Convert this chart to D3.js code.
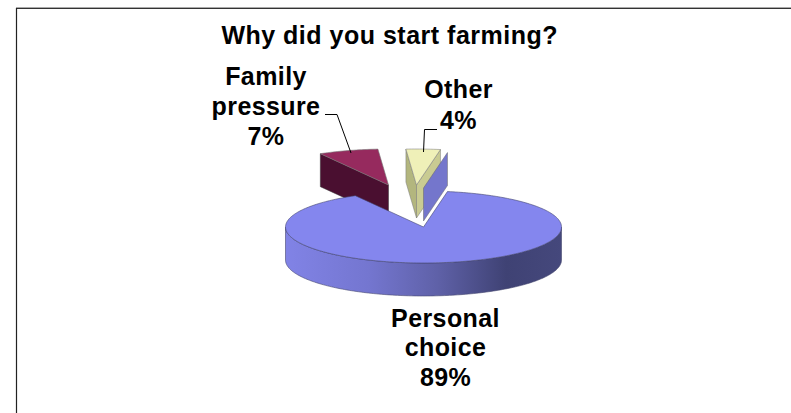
<!DOCTYPE html>
<html>
<head>
<meta charset="utf-8">
<script src="https://cdn.jsdelivr.net/npm/d3@7"></script>
<style>
html, body { margin: 0; padding: 0; background: #fff; }
text { font-family: "Liberation Sans", Arial, sans-serif; font-weight: bold; fill: #000; }
</style>
</head>
<body>
<div id="chart"></div>
<script>
var title = "Why did you start farming?";
var categories = ["Personal choice", "Family pressure", "Other"];
var values = [89, 7, 4];
var label_lines = [["Personal", "choice", "89%"], ["Family", "pressure", "7%"], ["Other", "4%"]];

var width = 791,
	height = 413;

var svg = d3.select("#chart")
	.append("svg")
	.attr("width", width)
	.attr("height", height)
	.style("display", "block");

// frame, only top and left show in the picture
svg.append("line").attr("x1", 16).attr("x2", width).attr("y1", 7.5).attr("y2", 7.5)
	.attr("stroke", "#aaa").attr("stroke-width", 1);
svg.append("line").attr("x1", 16).attr("x2", width).attr("y1", 8.5).attr("y2", 8.5)
	.attr("stroke", "#333").attr("stroke-width", 1);
svg.append("line").attr("x1", 16.5).attr("x2", 16.5).attr("y1", 8).attr("y2", height)
	.attr("stroke", "#222").attr("stroke-width", 1.2);

var defs = svg.append("defs");

var wall_grad = defs.append("linearGradient").attr("id", "wall_main");
[[0, "#8183e6"], [0.3, "#7476d0"], [0.55, "#5f61a8"], [0.8, "#3f4274"], [1, "#45487c"]].forEach(function (s) {
	wall_grad.append("stop").attr("offset", s[0]).attr("stop-color", s[1]);
});

var cx = 423.5,
	cy = 227,
	rx = 138,
	ry = 36,
	depth = 33;

var x_scale = d3.scaleLinear().domain([-1, 1]).range([-rx, rx]);
var y_scale = d3.scaleLinear().domain([-1, 1]).range([-ry, ry]);

var start = 10 * Math.PI / 180;
var slices = d3.pie().sort(null).startAngle(start).endAngle(start + 2 * Math.PI)(values);

// d3 angles run clockwise from 12 o'clock
function px(a) { return x_scale(Math.sin(a)); }
function py(a) { return y_scale(-Math.cos(a)); }

var line = d3.line();

function face_path(d) {
	var pts = [[0, 0]];
	d3.range(d.startAngle, d.endAngle, 0.02).forEach(function (a) {
		pts.push([px(a), py(a)]);
	});
	pts.push([px(d.endAngle), py(d.endAngle)]);
	return line(pts) + "Z";
}

// wall under the curved rim, only the front part is seen
function rim_path(a0, a1) {
	var angles = d3.range(a0, a1, 0.02).concat([a1]);
	var top = angles.map(function (a) { return [px(a), py(a)]; });
	var bottom = angles.slice().reverse().map(function (a) { return [px(a), py(a) + depth]; });
	return line(top.concat(bottom)) + "Z";
}

function cut_path(a) {
	return line([[0, 0], [px(a), py(a)], [px(a), py(a) + depth], [0, depth]]) + "Z";
}

var personal = slices[0], family = slices[1], other = slices[2];

// family pressure, behind the big slice
var g_family = svg.append("g").attr("transform", "translate(" + (cx - 35) + "," + (cy - 42) + ")");
g_family.append("path").attr("d", cut_path(family.startAngle))
	.attr("fill", "#4a0f30").attr("stroke", "#3a3a3a").attr("stroke-width", 0.5);
g_family.append("path").attr("d", face_path(family))
	.attr("fill", "#962a5e").attr("stroke", "#777").attr("stroke-width", 0.6);

// other
var g_other = svg.append("g").attr("transform", "translate(" + (cx - 7) + "," + (cy - 42) + ")");
g_other.append("path").attr("d", cut_path(other.startAngle))
	.attr("fill", "#b3b67e").attr("stroke", "#777").attr("stroke-width", 0.5);
g_other.append("path").attr("d", cut_path(other.endAngle))
	.attr("fill", "#c9cb92").attr("stroke", "#777").attr("stroke-width", 0.5);
g_other.append("path").attr("d", face_path(other))
	.attr("fill", "#eff0b8").attr("stroke", "#888").attr("stroke-width", 0.6);

// cut wall of the big slice sits up above the gap
svg.append("g").attr("transform", "translate(" + cx + "," + (cy - 39) + ")")
	.append("path").attr("d", cut_path(personal.startAngle))
	.attr("fill", "#7476cc").attr("stroke", "#666").attr("stroke-width", 0.5);

// big slice
var g_main = svg.append("g").attr("transform", "translate(" + cx + "," + cy + ")");
g_main.append("path").attr("d", rim_path(Math.PI / 2, 3 * Math.PI / 2))
	.attr("fill", "url(#wall_main)").attr("stroke", "#45476f").attr("stroke-width", 0.6);
g_main.append("path").attr("d", face_path(personal))
	.attr("fill", "#8486ee").attr("stroke", "#45476f").attr("stroke-width", 0.6);

// leaders
var leaders = svg.append("g").attr("fill", "none").attr("stroke", "#000").attr("stroke-width", 1);
leaders.append("path").attr("d", "M325,114.5H337L351,153");
leaders.append("path").attr("d", "M437,129.5H424.5L423.5,152");

// text
svg.append("text").attr("x", 389.7).attr("y", 44).attr("text-anchor", "middle")
	.attr("font-size", 25).attr("letter-spacing", 0.5).text(title);

function add_label(lines, x, y, step) {
	var t = svg.append("text").attr("text-anchor", "middle")
		.attr("font-size", 25).attr("letter-spacing", 0.4);
	lines.forEach(function (s, i) {
		t.append("tspan").attr("x", x).attr("y", y + i * step).text(s);
	});
}
add_label(label_lines[0], 445.5, 326.5, 29.5);
add_label(label_lines[1], 266, 85, 30);
add_label(label_lines[2], 458.5, 98, 31);
</script>
</body>
</html>
